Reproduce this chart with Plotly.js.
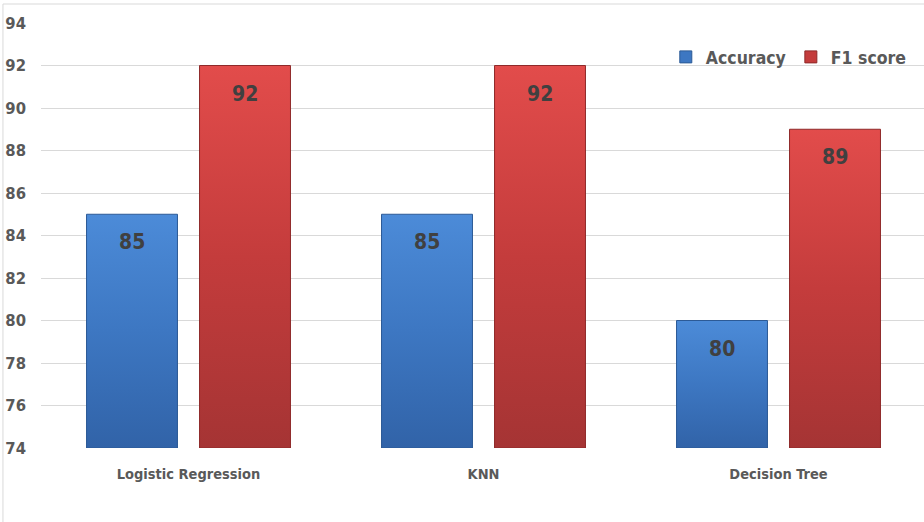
<!DOCTYPE html>
<html>
<head>
<meta charset="utf-8">
<script src="https://cdn.plot.ly/plotly-3.0.1.min.js"></script>
<style>html,body{margin:0;padding:0;background:#fff;overflow:hidden}#chart{width:926px;height:522px}</style>
</head>
<body>
<div id="chart"></div>
<script>
const models = ["Logistic Regression", "KNN", "Decision Tree"];
const accuracy = [85, 85, 80];
const f1score = [92, 92, 89];
const yTicks = [74, 76, 78, 80, 82, 84, 86, 88, 90, 92, 94];
const baseline = 74;

const font = "'DejaVu Sans Condensed', 'Liberation Sans', Arial, sans-serif";

function barTrace(name, vals, color, edge) {
  return {
    type: "bar", name: name, x: models, y: vals.map(v => v - baseline), base: baseline,
    marker: {color: color, line: {color: edge, width: 1}},
    textposition: "none", hoverinfo: "skip"
  };
}
const traces = [
  barTrace("Accuracy", accuracy, "#3d77c2", "#2c5a96"),
  barTrace("F1 score", f1score, "#c43c3c", "#8f2a2a")
];

const annotations = [];
[[accuracy, -56.5], [f1score, 56.5]].forEach(([vals, dx]) => {
  vals.forEach((v, i) => annotations.push({
    x: models[i], y: v, xref: "x", yref: "y", text: String(v), showarrow: false,
    yanchor: "top", xanchor: "center", xshift: dx, yshift: -14,
    font: {family: font, size: 21, color: "#404040", weight: "bold"}
  }));
});

const layout = {
  width: 926, height: 522,
  margin: {l: 41, r: 0, t: 23, b: 74},
  paper_bgcolor: "#ffffff", plot_bgcolor: "#ffffff",
  barmode: "group", bargap: 0.234, bargroupgap: 0.195,
  font: {family: font, color: "#595959"},
  xaxis: {
    showgrid: false, zeroline: false, showline: false, ticks: "",
    tickfont: {family: font, size: 14.5, color: "#595959", weight: "bold"},
    ticklabelstandoff: 15
  },
  yaxis: {
    range: [74, 94], tickvals: yTicks, ticktext: yTicks.map(String),
    showgrid: true, gridcolor: "#d9d9d9", gridwidth: 1, zeroline: false, showline: false,
    tickfont: {family: font, size: 16.5, color: "#595959", weight: "bold"},
    ticks: "", ticklabelstandoff: 14
  },
  legend: {
    orientation: "h", x: 0.706, y: 0.92, xanchor: "left", yanchor: "middle",
    bgcolor: "rgba(0,0,0,0)",
    font: {family: font, size: 17.5, color: "#595959", weight: "bold"},
    itemwidth: 30
  },
  annotations: annotations,
  shapes: [{
    type: "rect", xref: "paper", yref: "paper",
    x0: -0.0430, x1: 1.1, y0: -0.3, y1: 1.0447,
    line: {color: "#d9d9d9", width: 1}, fillcolor: "rgba(0,0,0,0)", layer: "below"
  }],
  showlegend: true
};

function applyGradients(gd) {
  const svg = gd.querySelector("svg.main-svg");
  const ns = "http://www.w3.org/2000/svg";
  let defs = svg.querySelector("defs");
  const specs = [["gradAcc", "#4c8bd8", "#3d77c2", "#3163a8"], ["gradF1", "#e24c4b", "#c43c3c", "#a53434"]];
  specs.forEach(([id, top, mid, bot]) => {
    const g = document.createElementNS(ns, "linearGradient");
    g.setAttribute("id", id); g.setAttribute("x1", "0"); g.setAttribute("y1", "0");
    g.setAttribute("x2", "0"); g.setAttribute("y2", "1");
    [[0, top], [0.5, mid], [1, bot]].forEach(([o, c]) => {
      const s = document.createElementNS(ns, "stop");
      s.setAttribute("offset", o); s.setAttribute("stop-color", c);
      g.appendChild(s);
    });
    defs.appendChild(g);
  });
  const traceGroups = gd.querySelectorAll(".barlayer .trace.bars");
  traceGroups.forEach((tg, ti) => {
    tg.querySelectorAll(".point path").forEach(p => {
      p.style.fill = "url(#" + specs[ti][0] + ")";
    });
  });
}

Plotly.newPlot("chart", traces, layout, {displayModeBar: false, staticPlot: true}).then(applyGradients);
</script>
</body>
</html>
